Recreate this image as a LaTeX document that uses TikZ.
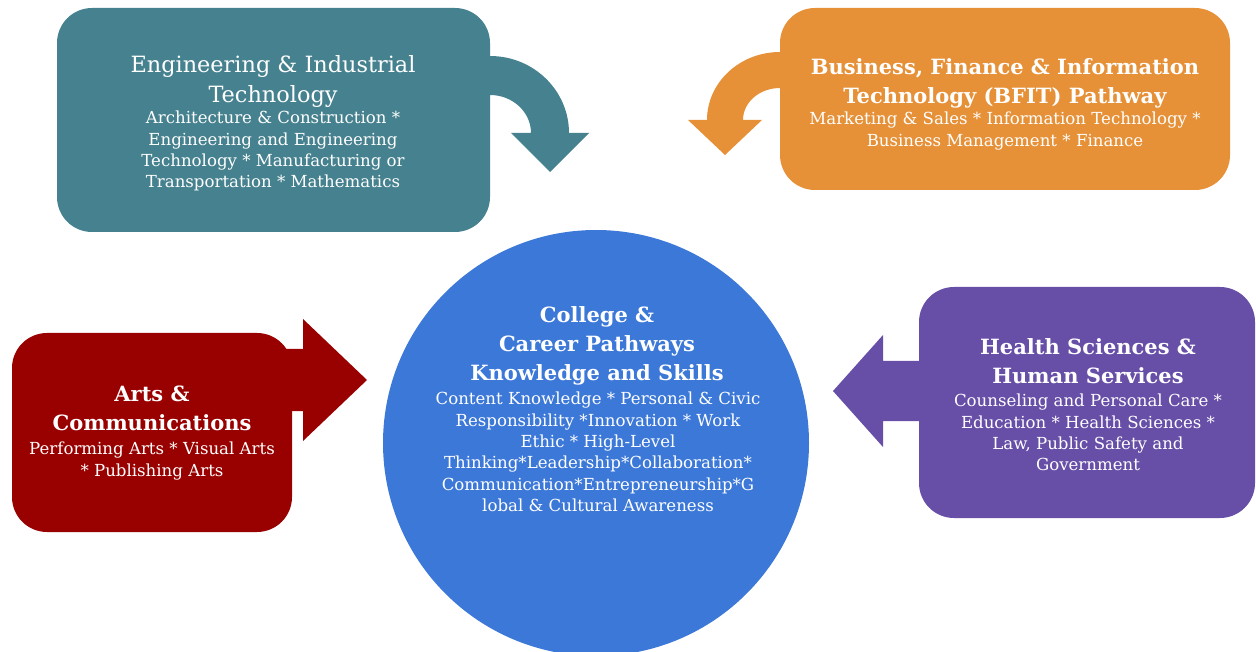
\documentclass[tikz,border=0pt]{standalone}
\usepackage{fontspec}
\setmainfont{DejaVu Serif}

\definecolor{engteal}{HTML}{45818E}
\definecolor{bfitorange}{HTML}{E69138}
\definecolor{artsred}{HTML}{990000}
\definecolor{healthpurple}{HTML}{674EA7}
\definecolor{hubblue}{HTML}{3C78D8}

\newcommand{\headfont}{\fontsize{21}{29}\selectfont}
\newcommand{\listfont}{\fontsize{16.6}{21.3}\selectfont}

\tikzset{
  pathbox/.style={rectangle, rounded corners=35pt, inner sep=0pt},
  boxtitle/.style={anchor=north, inner sep=0pt, align=center, text=white, font=\headfont},
  boxlist/.style={anchor=north, inner sep=0pt, align=center, text=white, font=\listfont},
}

\begin{document}
\begin{tikzpicture}[x=1pt,y=-1pt]
  \useasboundingbox (0,0) rectangle (1256,652);

  % block arrows
  \fill[engteal] (480,56) -- (490,56) .. controls (533.6,56) and (569,90.5) .. (569,133)
    -- (589,133) -- (550,172) -- (511,133) -- (531,133)
    .. controls (531,112) and (512.6,95) .. (490,95) -- (480,95) -- cycle;
  \fill[bfitorange] (790,52) -- (780,52) .. controls (739.7,52) and (707,82.5) .. (707,120)
    -- (688,120) -- (725,155) -- (762,120) -- (743,120)
    .. controls (743,102.3) and (759.6,88) .. (780,88) -- (790,88) -- cycle;
  \fill[artsred] (282,349) -- (303,349) -- (303,319) -- (367,380) -- (303,441)
    -- (303,411) -- (282,411) -- cycle;
  \fill[healthpurple] (928,361) -- (883,361) -- (883,335) -- (833,391) -- (883,447)
    -- (883,421) -- (928,421) -- cycle;

  % boxes
  \node (eng) [pathbox, fill=engteal, minimum width=433pt, minimum height=224pt] at (273.5,120) {};
  \node (bfit) [pathbox, fill=bfitorange, minimum width=450pt, minimum height=182pt] at (1005,99) {};
  \node (arts) [pathbox, fill=artsred, minimum width=280pt, minimum height=199pt] at (152,432.5) {};
  \node (health) [pathbox, fill=healthpurple, minimum width=336pt, minimum height=231pt] at (1087,402.5) {};
  \node (hub) [circle, fill=hubblue, inner sep=0pt, minimum size=426pt] at (596,443) {};

  % texts
  \node (engT) [boxtitle, font=\fontsize{22.4}{29.5}\selectfont] at (273,55.5) {Engineering \& Industrial\\Technology};
  \node (engL) [boxlist] at (273,111) {Architecture \& Construction *\\Engineering and Engineering\\Technology * Manufacturing or\\Transportation * Mathematics};

  \node (bfitT) [boxtitle, font=\headfont\bfseries] at (1005,58.5) {Business, Finance \& Information\\Technology (BFIT) Pathway};
  \node (bfitL) [boxlist] at (1005,112) {Marketing \& Sales * Information Technology *\\Business Management * Finance};

  \node (artsT) [boxtitle, font=\headfont\bfseries] at (152,385.5) {Arts \&\\Communications};
  \node (artsL) [boxlist] at (152,442) {Performing Arts * Visual Arts\\* Publishing Arts};

  \node (healthT) [boxtitle, font=\headfont\bfseries] at (1088,338.5) {Health Sciences \&\\Human Services};
  \node (healthL) [boxlist] at (1088,394) {Counseling and Personal Care *\\Education * Health Sciences *\\Law, Public Safety and\\Government};

  \node (hubT) [boxtitle, font=\headfont\bfseries] at (597,306.5) {College \&\\Career Pathways\\Knowledge and Skills};
  \node (hubL) [boxlist] at (598,392) {Content Knowledge * Personal \& Civic\\Responsibility *Innovation * Work\\Ethic * High-Level\\Thinking*Leadership*Collaboration*\\Communication*Entrepreneurship*G\\lobal \& Cultural Awareness};
\end{tikzpicture}
\end{document}
